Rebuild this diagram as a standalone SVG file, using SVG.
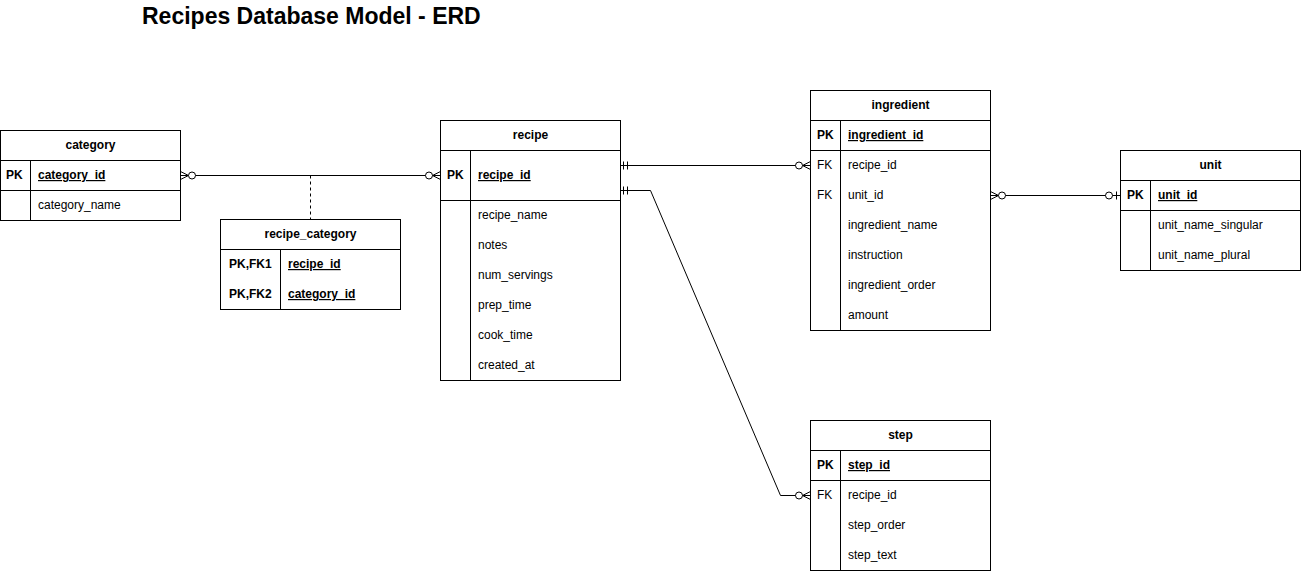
<svg xmlns="http://www.w3.org/2000/svg" width="1302" height="571" viewBox="0 0 1302 571">
<style>
.box{fill:#fff;stroke:#000;stroke-width:1}
.ln{stroke:#000;stroke-width:1;fill:none}
text{font-family:"Liberation Sans",Arial,sans-serif;font-size:12px;fill:#000}
.h{font-weight:bold;text-anchor:middle}
.k{font-weight:bold}
.u{text-decoration:underline}
.t{font-size:23px;font-weight:bold}
.c{stroke:#000;stroke-width:1;fill:none}
.cw{stroke:#000;stroke-width:1;fill:#fff}
</style>
<rect width="1302" height="571" fill="#fff"/>
<text class="t" x="142" y="24">Recipes Database Model - ERD</text>

<g id="connectors">
  <!-- category - recipe -->
  <path class="c" d="M180.5,175.5 H440.5"/>
  <path class="c" d="M310.5,175.5 V219" stroke-dasharray="3,3"/>
  <path class="c" d="M180.5,171.5 L188.5,175.5 L180.5,179.5"/>
  <circle class="cw" cx="192" cy="175.5" r="3.5"/>
  <path class="c" d="M440.5,171.5 L432.5,175.5 L440.5,179.5"/>
  <circle class="cw" cx="429" cy="175.5" r="3.5"/>
  <!-- recipe - ingredient -->
  <path class="c" d="M620.5,165.5 H810.5"/>
  <path class="c" d="M623.5,161.5 V169.5 M627.5,161.5 V169.5"/>
  <path class="c" d="M810.5,161.5 L802.5,165.5 L810.5,169.5"/>
  <circle class="cw" cx="799" cy="165.5" r="3.5"/>
  <!-- recipe - step -->
  <path class="c" d="M620.5,190.5 H650.5 L780.5,495.5 H810.5"/>
  <path class="c" d="M623.5,186.5 V194.5 M627.5,186.5 V194.5"/>
  <path class="c" d="M810.5,491.5 L802.5,495.5 L810.5,499.5"/>
  <circle class="cw" cx="799" cy="495.5" r="3.5"/>
  <!-- ingredient - unit -->
  <path class="c" d="M990.5,195.5 H1120.5"/>
  <path class="c" d="M990.5,191.5 L998.5,195.5 L990.5,199.5"/>
  <circle class="cw" cx="1002" cy="195.5" r="3.5"/>
  <path class="c" d="M1116.5,191.5 V199.5"/>
  <circle class="cw" cx="1109" cy="195.5" r="3.5"/>
</g>

<g id="category">
  <rect class="box" x="0.5" y="130.5" width="180" height="90"/>
  <path class="ln" d="M0.5,160.5 H180.5 M0.5,190.5 H180.5 M30.5,160.5 V220.5"/>
  <text class="h" x="90.5" y="149">category</text>
  <text class="k" x="6" y="179">PK</text>
  <text class="k u" x="38" y="179">category_id</text>
  <text x="38" y="209">category_name</text>
</g>

<g id="recipe_category">
  <rect class="box" x="220.5" y="219.5" width="180" height="90"/>
  <path class="ln" d="M220.5,249.5 H400.5 M280.5,249.5 V309.5"/>
  <text class="h" x="310.5" y="238">recipe_category</text>
  <text class="k" x="229" y="268">PK,FK1</text>
  <text class="k u" x="288" y="268">recipe_id</text>
  <text class="k" x="229" y="298">PK,FK2</text>
  <text class="k u" x="288" y="298">category_id</text>
</g>

<g id="recipe">
  <rect class="box" x="440.5" y="120.5" width="180" height="260"/>
  <path class="ln" d="M440.5,150.5 H620.5 M440.5,200.5 H620.5 M470.5,150.5 V380.5"/>
  <text class="h" x="530.5" y="139">recipe</text>
  <text class="k" x="447" y="179">PK</text>
  <text class="k u" x="478" y="179">recipe_id</text>
  <text x="478" y="219">recipe_name</text>
  <text x="478" y="249">notes</text>
  <text x="478" y="279">num_servings</text>
  <text x="478" y="309">prep_time</text>
  <text x="478" y="339">cook_time</text>
  <text x="478" y="369">created_at</text>
</g>

<g id="ingredient">
  <rect class="box" x="810.5" y="90.5" width="180" height="240"/>
  <path class="ln" d="M810.5,120.5 H990.5 M810.5,150.5 H990.5 M840.5,120.5 V330.5"/>
  <text class="h" x="900.5" y="109">ingredient</text>
  <text class="k" x="817" y="139">PK</text>
  <text class="k u" x="848" y="139">ingredient_id</text>
  <text x="817" y="169">FK</text>
  <text x="848" y="169">recipe_id</text>
  <text x="817" y="199">FK</text>
  <text x="848" y="199">unit_id</text>
  <text x="848" y="229">ingredient_name</text>
  <text x="848" y="259">instruction</text>
  <text x="848" y="289">ingredient_order</text>
  <text x="848" y="319">amount</text>
</g>

<g id="unit">
  <rect class="box" x="1120.5" y="150.5" width="180" height="120"/>
  <path class="ln" d="M1120.5,180.5 H1300.5 M1120.5,210.5 H1300.5 M1150.5,180.5 V270.5"/>
  <text class="h" x="1210.5" y="169">unit</text>
  <text class="k" x="1127" y="199">PK</text>
  <text class="k u" x="1158" y="199">unit_id</text>
  <text x="1158" y="229">unit_name_singular</text>
  <text x="1158" y="259">unit_name_plural</text>
</g>

<g id="step">
  <rect class="box" x="810.5" y="420.5" width="180" height="150"/>
  <path class="ln" d="M810.5,450.5 H990.5 M810.5,480.5 H990.5 M840.5,450.5 V570.5"/>
  <text class="h" x="900.5" y="439">step</text>
  <text class="k" x="817" y="469">PK</text>
  <text class="k u" x="848" y="469">step_id</text>
  <text x="817" y="499">FK</text>
  <text x="848" y="499">recipe_id</text>
  <text x="848" y="529">step_order</text>
  <text x="848" y="559">step_text</text>
</g>
</svg>
